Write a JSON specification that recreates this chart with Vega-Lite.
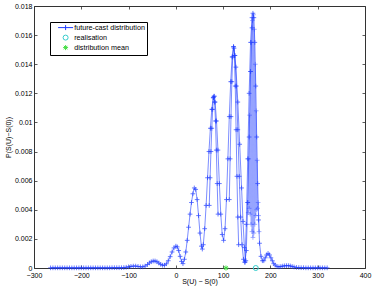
{
 "$schema": "https://vega.github.io/schema/vega-lite/v6.json",
 "width": 331, "height": 262,
 "autosize": {"type": "none"},
 "padding": {"left": 34, "top": 6, "right": 9, "bottom": 21},
 "background": "white",
 "config": {
  "font": "Liberation Sans",
  "view": {"stroke": null},
  "axis": {"grid": false, "domainColor": "#333", "tickColor": "#333", "labelColor": "#000", "labelFontSize": 7, "titleFontSize": 7, "titleFontWeight": "normal", "titleColor": "#000", "labelFont": "Liberation Sans", "titleFont": "Liberation Sans", "tickSize": -3, "domainWidth": 1, "tickWidth": 0.8, "labelFlush": false}
 },
 "datasets": {
  "dist": [
   {"x":-265,"y":0.00001,"p":"a"},{"x":-260,"y":0.00001,"p":"a"},{"x":-255,"y":0.00001,"p":"a"},{"x":-250,"y":0.00001,"p":"a"},{"x":-245,"y":0.00001,"p":"a"},{"x":-240,"y":0.00001,"p":"a"},{"x":-235,"y":0.00001,"p":"a"},{"x":-230,"y":0.00001,"p":"a"},{"x":-225,"y":0.00001,"p":"a"},{"x":-220,"y":0.00001,"p":"a"},{"x":-215,"y":0.00001,"p":"a"},{"x":-210,"y":0.00001,"p":"a"},{"x":-205,"y":0.00001,"p":"a"},{"x":-200,"y":0.00001,"p":"a"},{"x":-195,"y":0.00001,"p":"a"},{"x":-190,"y":0.00001,"p":"a"},{"x":-185,"y":0.00001,"p":"a"},{"x":-180,"y":0.00001,"p":"a"},{"x":-175,"y":0.00001,"p":"a"},{"x":-170,"y":0.00001,"p":"a"},{"x":-165,"y":0.00001,"p":"a"},{"x":-160,"y":0.00001,"p":"a"},{"x":-155,"y":0.00001,"p":"a"},{"x":-150,"y":0.00001,"p":"a"},{"x":-145,"y":0.00001,"p":"a"},{"x":-140,"y":0.00001,"p":"a"},{"x":-135,"y":0.00002,"p":"a"},{"x":-130,"y":0.00002,"p":"a"},{"x":-125,"y":0.00002,"p":"a"},{"x":-120,"y":0.00002,"p":"a"},{"x":-115,"y":0.00002,"p":"a"},
   {"x":-110,"y":0.00003,"p":"a"},{"x":-105,"y":0.00005,"p":"a"},{"x":-100,"y":0.00008,"p":"a"},{"x":-95,"y":0.00011,"p":"a"},{"x":-90,"y":0.00013,"p":"a"},{"x":-85,"y":0.00013,"p":"a"},{"x":-80,"y":0.00011,"p":"a"},{"x":-75,"y":0.00008,"p":"a"},{"x":-70,"y":0.00008,"p":"a"},{"x":-65,"y":0.00013,"p":"a"},{"x":-60,"y":0.00024,"p":"a"},{"x":-56,"y":0.00035,"p":"a"},{"x":-52,"y":0.00043,"p":"a"},{"x":-48,"y":0.00048,"p":"a"},{"x":-44,"y":0.00048,"p":"a"},{"x":-40,"y":0.00043,"p":"a"},{"x":-36,"y":0.00034,"p":"a"},{"x":-32,"y":0.00025,"p":"a"},{"x":-28,"y":0.00019,"p":"a"},{"x":-24,"y":0.00019,"p":"a"},{"x":-20,"y":0.00029,"p":"a"},{"x":-16,"y":0.0005,"p":"a"},{"x":-12,"y":0.00078,"p":"a"},{"x":-8,"y":0.0011,"p":"a"},{"x":-4,"y":0.00138,"p":"a"},{"x":0,"y":0.0015,"p":"a"},{"x":3,"y":0.00145,"p":"a"},{"x":6,"y":0.0012,"p":"a"},{"x":9,"y":0.0008,"p":"a"},{"x":12,"y":0.00045,"p":"a"},{"x":15,"y":0.0003,"p":"a"},{"x":18,"y":0.0006,"p":"a"},{"x":21,"y":0.0011,"p":"a"},{"x":24,"y":0.0019,"p":"a"},{"x":27,"y":0.0028,"p":"a"},{"x":30,"y":0.0037,"p":"a"},{"x":33,"y":0.0045,"p":"a"},{"x":36,"y":0.0051,"p":"a"},{"x":39,"y":0.0055,"p":"a"},{"x":42,"y":0.0054,"p":"a"},{"x":45,"y":0.0047,"p":"a"},{"x":48,"y":0.0036,"p":"a"},{"x":51,"y":0.0024,"p":"a"},{"x":54,"y":0.0015,"p":"a"},{"x":56,"y":0.0013,"p":"a"},{"x":58,"y":0.0016,"p":"a"},{"x":61,"y":0.0027,"p":"a"},{"x":64,"y":0.0043,"p":"a"},{"x":67,"y":0.0062,"p":"a"},{"x":70,"y":0.008,"p":"a"},{"x":73,"y":0.0096,"p":"a"},{"x":76,"y":0.0109,"p":"a"},{"x":79,"y":0.0117,"p":"a"},{"x":81,"y":0.0118,"p":"a"},{"x":83,"y":0.0114,"p":"a"},{"x":86,"y":0.0101,"p":"a"},{"x":89,"y":0.0081,"p":"a"},{"x":92,"y":0.0058,"p":"a"},{"x":95,"y":0.0037,"p":"a"},{"x":98,"y":0.0023,"p":"a"},{"x":101,"y":0.0019,"p":"a"},{"x":104,"y":0.0027,"p":"a"},{"x":107,"y":0.0047,"p":"a"},{"x":110,"y":0.0075,"p":"a"},{"x":113,"y":0.0104,"p":"a"},{"x":116,"y":0.0128,"p":"a"},{"x":119,"y":0.0145,"p":"a"},{"x":122,"y":0.0152,"p":"a"},{"x":125,"y":0.0146,"p":"a"},{"x":128,"y":0.0125,"p":"a"},{"x":131,"y":0.0095,"p":"a"},{"x":134,"y":0.0063,"p":"a"},{"x":137,"y":0.0035,"p":"a"},{"x":140,"y":0.0016,"p":"a"},{"x":143,"y":0.0006,"p":"a"},{"x":146,"y":0.0004,"p":"a"},{"x":149,"y":0.0012,"p":"a"},{"x":152,"y":0.0045,"p":"a"},{"x":155,"y":0.009,"p":"a"},{"x":158,"y":0.0135,"p":"a"},{"x":161,"y":0.0165,"p":"a"},{"x":163,"y":0.0175,"p":"a"},{"x":165,"y":0.0172,"p":"a"},{"x":167,"y":0.0155,"p":"a"},{"x":169,"y":0.0125,"p":"a"},{"x":171,"y":0.009,"p":"a"},{"x":173,"y":0.0058,"p":"a"},{"x":175,"y":0.0033,"p":"a"},{"x":177,"y":0.0017,"p":"a"},{"x":180,"y":0.0008,"p":"a"},{"x":183,"y":0.0005,"p":"a"},{"x":186,"y":0.0005,"p":"a"},{"x":189,"y":0.0007,"p":"a"},{"x":192,"y":0.0009,"p":"a"},{"x":195,"y":0.001,"p":"a"},{"x":198,"y":0.0009,"p":"a"},{"x":201,"y":0.0007,"p":"a"},{"x":204,"y":0.0005,"p":"a"},{"x":207,"y":0.0003,"p":"a"},{"x":210,"y":0.0002,"p":"a"},{"x":214,"y":0.0001,"p":"a"},{"x":218,"y":0.00008,"p":"a"},{"x":222,"y":0.0001,"p":"a"},{"x":226,"y":0.00013,"p":"a"},{"x":230,"y":0.00015,"p":"a"},{"x":234,"y":0.00016,"p":"a"},{"x":238,"y":0.00016,"p":"a"},{"x":242,"y":0.00014,"p":"a"},{"x":246,"y":0.0001,"p":"a"},{"x":250,"y":0.00007,"p":"a"},{"x":255,"y":0.00004,"p":"a"},{"x":260,"y":0.00003,"p":"a"},{"x":265,"y":0.00002,"p":"a"},{"x":270,"y":0.00002,"p":"a"},{"x":275,"y":0.00001,"p":"a"},{"x":280,"y":0.00001,"p":"a"},{"x":285,"y":0.00001,"p":"a"},{"x":290,"y":0.00001,"p":"a"},{"x":295,"y":0.00001,"p":"a"},{"x":300,"y":0.00001,"p":"a"},{"x":305,"y":0.00001,"p":"a"},{"x":310,"y":0.00001,"p":"a"},{"x":315,"y":0.00001,"p":"a"},{"x":320,"y":0.00001,"p":"a"},
   {"x":70.6,"y":0.0043,"p":"b1"},{"x":72.4,"y":0.0062,"p":"b1"},{"x":74.2,"y":0.008,"p":"b1"},{"x":76,"y":0.0096,"p":"b1"},{"x":77.8,"y":0.0109,"p":"b1"},{"x":79.6,"y":0.0117,"p":"b1"},{"x":80.8,"y":0.0118,"p":"b1"},{"x":82,"y":0.0114,"p":"b1"},{"x":83.8,"y":0.0101,"p":"b1"},{"x":85.6,"y":0.0081,"p":"b1"},{"x":87.4,"y":0.0058,"p":"b1"},{"x":89.2,"y":0.0037,"p":"b1"},
   {"x":113,"y":0.0047,"p":"b2"},{"x":114.8,"y":0.0075,"p":"b2"},{"x":116.6,"y":0.0104,"p":"b2"},{"x":118.4,"y":0.0128,"p":"b2"},{"x":120.2,"y":0.0145,"p":"b2"},{"x":122,"y":0.0152,"p":"b2"},{"x":123.8,"y":0.0146,"p":"b2"},{"x":125.6,"y":0.0125,"p":"b2"},{"x":127.4,"y":0.0095,"p":"b2"},{"x":129.2,"y":0.0063,"p":"b2"},{"x":131,"y":0.0035,"p":"b2"},{"x":132.8,"y":0.0016,"p":"b2"},
   {"x":123,"y":0.0151,"p":"c"},{"x":127,"y":0.0138,"p":"c"},{"x":131,"y":0.0114,"p":"c"},{"x":135,"y":0.0085,"p":"c"},{"x":139,"y":0.0055,"p":"c"},{"x":142,"y":0.0032,"p":"c"},{"x":145,"y":0.0014,"p":"c"},{"x":148,"y":0.0005,"p":"c"},
   {"x":146,"y":0.0004,"p":"d"},{"x":149,"y":0.003,"p":"d"},{"x":152,"y":0.0075,"p":"d"},{"x":155,"y":0.012,"p":"d"},{"x":158,"y":0.0155,"p":"d"},{"x":161,"y":0.0172,"p":"d"},
   {"x":152,"y":0.0045,"p":"z"},{"x":153,"y":0.0038,"p":"z"},{"x":154,"y":0.0075,"p":"z"},{"x":155,"y":0.0041,"p":"z"},{"x":156,"y":0.0105,"p":"z"},{"x":157,"y":0.0037,"p":"z"},{"x":158,"y":0.0135,"p":"z"},{"x":159,"y":0.003,"p":"z"},{"x":160,"y":0.0155,"p":"z"},{"x":161,"y":0.0025,"p":"z"},{"x":162,"y":0.017,"p":"z"},{"x":163,"y":0.0021,"p":"z"},{"x":164,"y":0.0174,"p":"z"},{"x":165,"y":0.0024,"p":"z"},{"x":166,"y":0.0164,"p":"z"},{"x":167,"y":0.003,"p":"z"},{"x":168,"y":0.014,"p":"z"},{"x":169,"y":0.0036,"p":"z"},{"x":170,"y":0.0108,"p":"z"},{"x":171,"y":0.004,"p":"z"},{"x":172,"y":0.0074,"p":"z"},{"x":173,"y":0.0041,"p":"z"},{"x":174,"y":0.0045,"p":"z"},{"x":175,"y":0.0036,"p":"z"},{"x":176,"y":0.0025,"p":"z"}
  ],
  "marks": [
   {"x":169,"y":0,"series":"realisation"},
   {"x":106,"y":0,"series":"distribution mean"}
  ]
 },
 "layer": [
  {
   "data": {"name": "dist"},
   "mark": {"type": "line", "color": "#1f3cff", "strokeWidth": 0.9},
   "encoding": {
    "x": {"field": "x", "type": "quantitative", "scale": {"domain": [-300, 400], "nice": false, "zero": false},
          "axis": {"values": [-300,-200,-100,0,100,200,300,400], "title": "S(U) − S(0)", "labelPadding": 6, "titlePadding": -1}},
    "y": {"field": "y", "type": "quantitative", "scale": {"domain": [0, 0.018], "nice": false, "zero": false},
          "axis": {"values": [0,0.002,0.004,0.006,0.008,0.01,0.012,0.014,0.016,0.018], "labelExpr": "datum.value == 0 ? '0' : format(datum.value, '.3~f')", "title": "P(S(U)−S(0))", "labelPadding": 5, "titlePadding": 3}},
    "detail": {"field": "p"},
    "opacity": {"condition": {"test": "datum.p == 'z'", "value": 0.3}, "value": 0.65}
   }
  },
  {
   "data": {"name": "dist"},
   "mark": {"type": "point", "shape": "M-1,0L1,0M0,-1L0,1", "filled": false, "color": "#1f3cff", "size": 22, "strokeWidth": 0.9},
   "encoding": {
    "x": {"field": "x", "type": "quantitative", "axis": null},
    "y": {"field": "y", "type": "quantitative", "axis": null},
    "opacity": {"condition": {"test": "datum.p == 'z'", "value": 0.45}, "value": 0.75}
   }
  },
  {
   "data": {"name": "marks"},
   "mark": {"type": "point", "filled": false, "size": 25, "strokeWidth": 1, "opacity": 1},
   "encoding": {
    "x": {"field": "x", "type": "quantitative", "axis": null},
    "y": {"field": "y", "type": "quantitative", "axis": null},
    "color": {"field": "series", "type": "nominal",
      "scale": {"domain": ["future-cast distribution", "realisation", "distribution mean"], "range": ["#1f3cff", "#33cccc", "#44dd44"]},
      "legend": {"title": null, "orient": "none", "legendX": 16, "legendY": 16, "strokeColor": "#000", "fillColor": "white", "padding": 2, "labelFontSize": 7.2, "labelFont": "Liberation Sans", "rowPadding": 0, "symbolSize": 25, "symbolStrokeWidth": 1, "symbolOffset": 10, "labelOffset": 5, "labelLimit": 300}},
    "shape": {"field": "series", "type": "nominal",
      "scale": {"domain": ["future-cast distribution", "realisation", "distribution mean"], "range": ["M-3,0L3,0M0,-1L0,1", "circle", "M-1,0L1,0M0,-1L0,1M-0.7,-0.7L0.7,0.7M-0.7,0.7L0.7,-0.7"]},
      "legend": {"title": null, "orient": "none", "legendX": 16, "legendY": 16}}
   }
  },
  {
   "data": {"name": "marks"},
   "mark": {"type": "point", "opacity": 0},
   "encoding": {
    "x": {"field": "x", "type": "quantitative", "axis": {"orient": "top", "labels": false, "title": null, "values": [-300,-200,-100,0,100,200,300,400]}},
    "y": {"field": "y", "type": "quantitative", "axis": {"orient": "right", "labels": false, "title": null, "values": [0,0.002,0.004,0.006,0.008,0.01,0.012,0.014,0.016,0.018]}}
   }
  }
 ],
 "resolve": {"axis": {"x": "independent", "y": "independent"}}
}
